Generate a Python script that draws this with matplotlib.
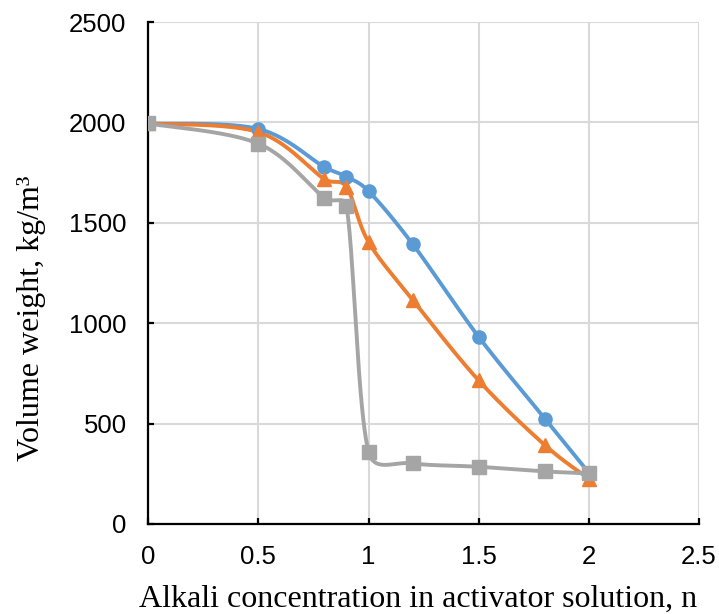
import numpy as np
import matplotlib.pyplot as plt

# alkali concentration, n
conc = [0, 0.5, 0.8, 0.9, 1.0, 1.2, 1.5, 1.8, 2.0]

# volume weight, kg/m3
series_blue = [1995, 1968, 1778, 1730, 1658, 1395, 932, 525, 255]
series_orange = [1995, 1952, 1718, 1678, 1405, 1117, 715, 393, 225]
series_gray = [1995, 1895, 1625, 1583, 360, 302, 285, 262, 252]

x_ticks = [0, 0.5, 1, 1.5, 2, 2.5]
y_ticks = [0, 500, 1000, 1500, 2000, 2500]

# rough pixel scale of the plot area, so smoothing works like excel's (in screen space)
SX = 551 / 2.5
SY = 502 / 2500


def smooth(x, y, n=40):
    # bezier smoothing, arms capped at half the segment length
    P = np.column_stack([np.asarray(x, float) * SX, np.asarray(y, float) * SY])
    m = len(P)
    out = []
    t = np.linspace(0, 1, n)[:, None]
    for i in range(m - 1):
        p0, p3 = P[i], P[i + 1]
        seg = np.linalg.norm(p3 - p0)
        a1 = (P[i + 1] - P[max(i - 1, 0)]) / 6
        a2 = (P[min(i + 2, m - 1)] - P[i]) / 6
        for a in (a1, a2):
            L = np.linalg.norm(a)
            if L > seg / 2:
                a *= (seg / 2) / L
        c1 = p0 + a1
        c2 = p3 - a2
        b = (1 - t) ** 3 * p0 + 3 * (1 - t) ** 2 * t * c1 + 3 * (1 - t) * t ** 2 * c2 + t ** 3 * p3
        out.append(b)
    b = np.vstack(out)
    return b[:, 0] / SX, b[:, 1] / SY


fig = plt.figure(figsize=(7.19, 6.14), dpi=100)
ax = fig.add_axes([0.206, 0.1466, 0.7663, 0.8174])

styles = [
    (series_blue, "#5B9BD5", "o", 9.5),
    (series_orange, "#ED7D31", "^", 10.5),
    (series_gray, "#A5A5A5", "s", 9.5),
]
for vals, col, mk, ms in styles:
    sx, sy = smooth(conc, vals)
    ax.plot(sx, sy, color=col, lw=2.8, zorder=3, solid_capstyle="round")
    ax.plot(conc, vals, ls="none", marker=mk, ms=ms, color=col, zorder=4)

ax.set_xlim(0, 2.5)
ax.set_ylim(0, 2500)
ax.set_xticks(x_ticks)
ax.set_xticklabels(["0", "0.5", "1", "1.5", "2", "2.5"])
ax.set_yticks(y_ticks)
ax.grid(True, color="#D9D9D9", lw=1.5)
ax.set_axisbelow(True)

for s in ["top", "right"]:
    ax.spines[s].set_visible(False)
for s in ["left", "bottom"]:
    ax.spines[s].set_color("black")
    ax.spines[s].set_linewidth(1.6)

ax.tick_params(axis="both", direction="in", length=4.5, width=1.6, color="black",
               labelsize=18.5)
ax.tick_params(axis="y", pad=15.5)
ax.tick_params(axis="x", pad=15)
for lab in ax.get_xticklabels() + ax.get_yticklabels():
    lab.set_fontfamily("Liberation Sans")

ax.set_xlabel("Alkali concentration in activator solution, n",
              family="Liberation Serif", fontsize=23)
ax.xaxis.set_label_coords(0.49, -0.122)
ax.set_ylabel("Volume weight, kg/m³", family="Liberation Serif", fontsize=23, va="center")
ax.yaxis.set_label_coords(-0.212, 0.41)

fig.savefig("out.png", dpi=100)
